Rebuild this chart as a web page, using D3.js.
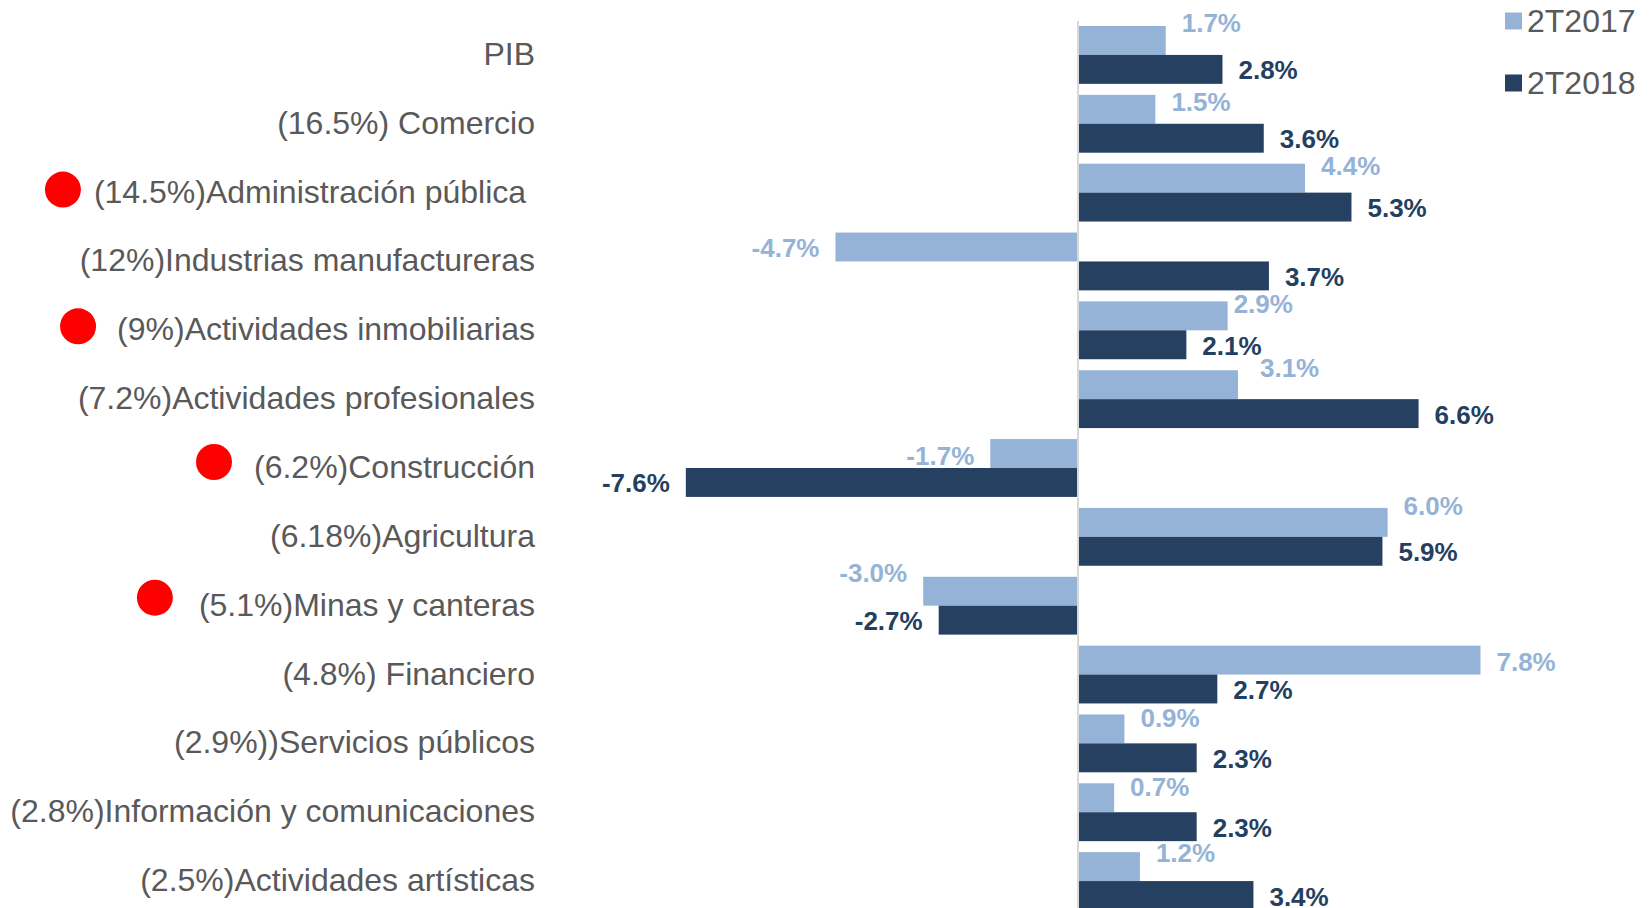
<!DOCTYPE html>
<html>
<head>
<meta charset="utf-8">
<script src="https://cdn.jsdelivr.net/npm/d3@7/dist/d3.min.js"></script>
<style>
  html, body { margin: 0; padding: 0; background: #ffffff; }
  svg { display: block; font-family: "Liberation Sans", Arial, sans-serif; }
</style>
</head>
<body>
<svg id="chart" width="1652" height="908"></svg>
<script>
// Sector labels (share of GDP in parentheses)
const categories = [
  "PIB",
  "(16.5%) Comercio",
  "(14.5%)Administración pública ",
  "(12%)Industrias manufactureras",
  "(9%)Actividades inmobiliarias",
  "(7.2%)Actividades profesionales",
  "(6.2%)Construcción",
  "(6.18%)Agricultura",
  "(5.1%)Minas y canteras",
  "(4.8%) Financiero",
  "(2.9%))Servicios públicos",
  "(2.8%)Información y comunicaciones",
  "(2.5%)Actividades artísticas"
];

// Year-on-year growth, second quarter
const seriesNames = ["2T2017", "2T2018"];
const values2017 = [1.7, 1.5, 4.4, -4.7, 2.9, 3.1, -1.7, 6.0, -3.0, 7.8, 0.9, 0.7, 1.2];
const values2018 = [2.8, 3.6, 5.3, 3.7, 2.1, 6.6, -7.6, 5.9, -2.7, 2.7, 2.3, 2.3, 3.4];

// Sectors flagged with a red marker
const flagged = [
  "(14.5%)Administración pública ",
  "(9%)Actividades inmobiliarias",
  "(6.2%)Construcción",
  "(5.1%)Minas y canteras"
];

// ---- layout ----
const W = 1652, H = 908;
const colors = ["#95b3d7", "#254061"];
const labelColors = ["#95b3d7", "#243f60"];
const textGray = "#595959";

// hand-placed offsets of the 2T2017 value labels
const lightLabelDy = [-17, -7, -12, 1, -12, -17, 2, -16, -18, 2, -11, -11, -14];
const lightLabelDx = [0, 0, 0, 0, -10, 6, 0, 0, 0, 0, 0, 0, 0];
// red markers: gap from the text start, lift above the row centre
const flagGap = [31, 39, 40, 44];
const flagLift = [1, 2, 4, 6];

const svg = d3.select("#chart");

const x = d3.scaleLinear().domain([-8, 8]).range([665.2, 1490.8]);
const y = d3.scaleBand().domain(categories).range([15, 921]).paddingInner(0.16).paddingOuter(0.16);
const sub = d3.scaleBand().domain(seriesNames).range([0, y.bandwidth()]);

const rows = categories.map((c, i) => ({ c, i, v: [values2017[i], values2018[i]] }));

// bars
const g = svg.append("g");
seriesNames.forEach((s, si) => {
  g.selectAll(null)
    .data(rows)
    .join("rect")
    .attr("x", d => x(Math.min(0, d.v[si])))
    .attr("y", d => y(d.c) + sub(s))
    .attr("width", d => Math.abs(x(d.v[si]) - x(0)))
    .attr("height", sub.bandwidth())
    .attr("fill", colors[si]);
});

// zero axis line
svg.append("line")
  .attr("x1", x(0)).attr("x2", x(0))
  .attr("y1", 21).attr("y2", H)
  .attr("stroke", "#d9d9d9").attr("stroke-width", 2);

// value labels (plain hyphen for negatives)
const fmt = v => (v < 0 ? "-" : "") + Math.abs(v).toFixed(1) + "%";
seriesNames.forEach((s, si) => {
  svg.append("g").selectAll("text")
    .data(rows)
    .join("text")
    .attr("x", d => {
      const v = d.v[si];
      const base = x(v) + (v >= 0 ? 16 : -16);
      return base + (si === 0 ? lightLabelDx[d.i] : 0);
    })
    .attr("y", d => y(d.c) + sub(s) + sub.bandwidth() / 2 + (si === 0 ? lightLabelDy[d.i] : 1))
    .attr("text-anchor", d => d.v[si] >= 0 ? "start" : "end")
    .attr("dominant-baseline", "central")
    .attr("font-size", 26)
    .attr("font-weight", "bold")
    .attr("fill", labelColors[si])
    .text(d => fmt(d.v[si]));
});

// category labels
const catLabels = svg.append("g").selectAll("text")
  .data(categories)
  .join("text")
  .attr("x", 535)
  .attr("y", d => y(d) + y.bandwidth() / 2 - 1)
  .attr("text-anchor", "end")
  .attr("dominant-baseline", "central")
  .attr("font-size", 32)
  .attr("fill", textGray)
  .style("white-space", "pre")
  .text(d => d);

// red markers beside flagged sectors
catLabels.filter(d => flagged.includes(d)).each(function(d) {
  const k = flagged.indexOf(d);
  const box = this.getBBox();
  svg.append("circle")
    .attr("cx", box.x - flagGap[k])
    .attr("cy", y(d) + y.bandwidth() / 2 - 2 - flagLift[k])
    .attr("r", 18)
    .attr("fill", "#ff0000");
});

// legend
const legend = svg.append("g").attr("transform", "translate(1505,0)");
const legendY = [21, 83];
seriesNames.forEach((s, si) => {
  legend.append("rect")
    .attr("x", 0).attr("y", legendY[si] - 8.5)
    .attr("width", 17).attr("height", 17)
    .attr("fill", colors[si]);
  legend.append("text")
    .attr("x", 22).attr("y", legendY[si])
    .attr("dominant-baseline", "central")
    .attr("font-size", 32)
    .attr("fill", textGray)
    .text(s);
});
</script>
</body>
</html>
